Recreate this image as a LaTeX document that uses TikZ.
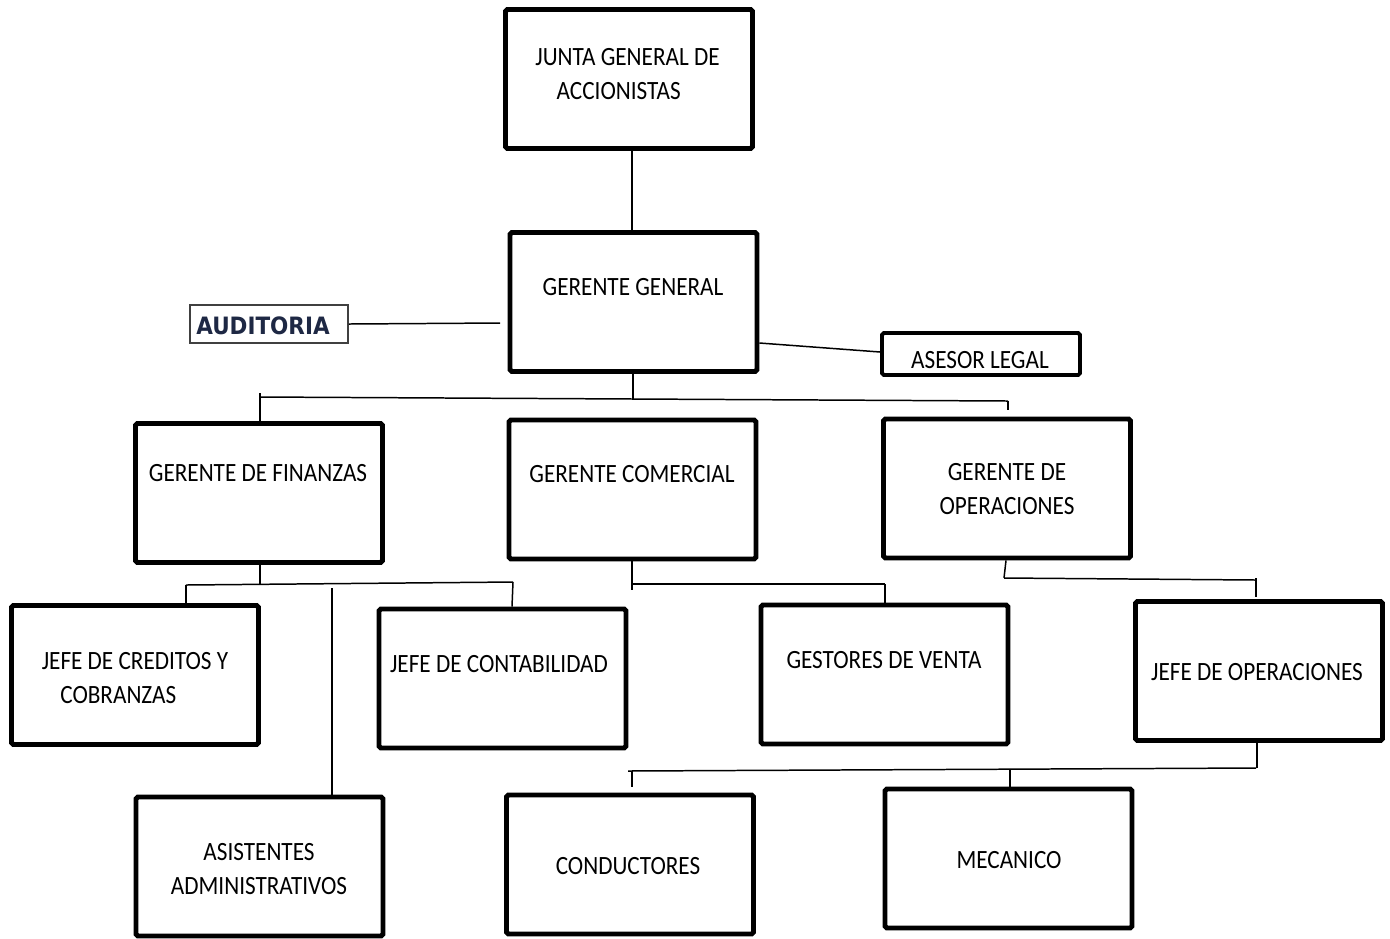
\documentclass[tikz,border=0pt]{standalone}
\usepackage{fontspec}
\setmainfont{Carlito}[FakeStretch=0.88]
\newfontfamily\audfont{DejaVu Sans Condensed}
\usetikzlibrary{calc}
\definecolor{audblue}{RGB}{30,40,68}

\begin{document}
\begin{tikzpicture}[x=0.02cm,y=-0.02cm,
    box/.style={draw,line width=2.8pt,rounded corners=1pt,minimum width=4.94cm,minimum height=2.78cm,inner sep=0pt},
    lbl/.style={font=\fontsize{15}{19.3}\selectfont,align=center,inner sep=0pt},
    conn/.style={line width=0.85pt}]
    \useasboundingbox (0,0) rectangle (1390,938);

    % boxes
    \node[box] (junta) at (629,79) {};
    \node[box] (gg) at (633.5,302) {};
    \node[box] (fin) at (259,493) {};
    \node[box] (com) at (632.5,489.5) {};
    \node[box] (ope) at (1007,488.5) {};
    \node[box] (cred) at (135,675) {};
    \node[box] (cont) at (502.5,678.5) {};
    \node[box] (gest) at (884.5,674.5) {};
    \node[box] (jope) at (1259,671) {};
    \node[box] (asist) at (259.5,866.5) {};
    \node[box] (cond) at (630,864.5) {};
    \node[box] (mec) at (1008.5,858.5) {};
    \node[draw,line width=2.2pt,rounded corners=1pt,minimum width=3.96cm,minimum height=0.84cm,inner sep=0pt] (ases) at (981,354) {};
    \node[draw=black!75,line width=1.1pt,minimum width=3.16cm,minimum height=0.76cm,inner sep=0pt] (aud) at (269,324) {};

    % texts
    \node[lbl] (junta-t) at (627.5,74) {JUNTA GENERAL DE\\ACCIONISTAS\hspace*{10pt}};
    \node[lbl] (gg-t) at (633,287) {GERENTE GENERAL};
    \node[lbl] (fin-t) at (258,473) {GERENTE DE FINANZAS};
    \node[lbl] (com-t) at (632,474) {GERENTE COMERCIAL};
    \node[lbl] (ope-t) at (1007,489) {GERENTE DE\\OPERACIONES};
    \node[lbl] (cred-t) at (135,678) {JEFE DE CREDITOS Y\\COBRANZAS\hspace*{19pt}};
    \node[lbl] (cont-t) at (499,664) {JEFE DE CONTABILIDAD};
    \node[lbl] (gest-t) at (884,660) {GESTORES DE VENTA};
    \node[lbl] (jope-t) at (1257,672) {JEFE DE OPERACIONES};
    \node[lbl] (asist-t) at (259,869) {ASISTENTES\\ADMINISTRATIVOS};
    \node[lbl] (cond-t) at (628,866) {CONDUCTORES};
    \node[lbl] (mec-t) at (1009,860) {MECANICO};
    \node[lbl] (ases-t) at (980,360) {ASESOR LEGAL};
    \node[font=\audfont\bfseries\fontsize{13.6}{16}\selectfont,text=audblue,inner sep=0pt] (aud-t) at (263,326) {AUDITORIA};

    % connectors
    \coordinate (audEnd) at (500,323);
    \coordinate (ggR) at (gg.east |- 0,343);
    \coordinate (asesL) at (ases.west |- 0,352);
    \draw[conn] (junta.south -| 632,0) -- (gg.north -| 632,0);
    \draw[conn] (aud.east) -- (audEnd);
    \draw[conn] (ggR) -- (asesL);

    \coordinate (b1L) at (260,397);
    \coordinate (b1R) at (1008,401);
    \draw[conn] (gg.south -| 633,0) -- (633,399);
    \draw[conn] (b1L) -- (b1R);
    \draw[conn] (260,393) -- (fin.north -| 260,0);
    \draw[conn] (b1R) -- (1008,410);

    \coordinate (b2L) at (186,585);
    \coordinate (b2R) at (513,582);
    \draw[conn] (fin.south -| 260,0) -- (260,584);
    \draw[conn] (b2L) -- (b2R);
    \draw[conn] (b2L) -- (cred.north -| 186,0);
    \draw[conn] (b2R) -- (cont.north -| 512,0);
    \draw[conn] (332,588) -- (asist.north -| 332,0);

    \coordinate (b3L) at (631,584);
    \coordinate (b3R) at (885,584);
    \draw[conn] (com.south -| 632,0) -- (632,590);
    \draw[conn] (b3L) -- (b3R);
    \draw[conn] (b3R) -- (gest.north -| 885,0);

    \coordinate (b4L) at (1004,578);
    \coordinate (b4R) at (1256,580);
    \draw[conn] (ope.south -| 1006,0) -- (b4L);
    \draw[conn] (b4L) -- (b4R);
    \draw[conn] (1256,578) -- (1256,597);

    \coordinate (b5L) at (628,771);
    \coordinate (b5R) at (1256,768);
    \draw[conn] (jope.south -| 1257,0) -- (1257,768);
    \draw[conn] (b5L) -- (b5R);
    \draw[conn] (632,771) -- (632,787);
    \draw[conn] (1010,769) -- (mec.north -| 1010,0);
\end{tikzpicture}
\end{document}
